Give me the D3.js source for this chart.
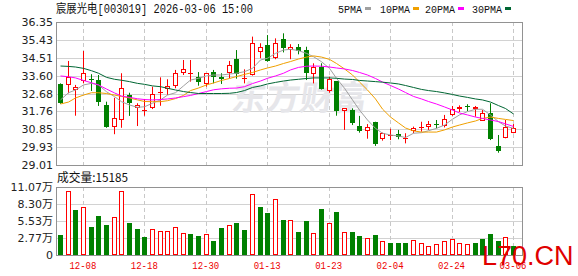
<!DOCTYPE html>
<html>
<head>
<meta charset="utf-8">
<script src="https://cdn.jsdelivr.net/npm/d3@7"></script>
<style>
    html, body { margin: 0; padding: 0; background: #fff; }
    svg { display: block; }
</style>
</head>
<body>
<svg id="kline"></svg>
<script>
// 日期（交易日）
const dates = ["12-03", "12-04", "12-05", "12-08", "12-09", "12-10", "12-11", "12-12", "12-15", "12-16",
    "12-17", "12-18", "12-19", "12-22", "12-23", "12-24", "12-25", "12-26", "12-29", "12-30",
    "12-31", "01-05", "01-06", "01-07", "01-08", "01-09", "01-12", "01-13", "01-14", "01-15",
    "01-16", "01-19", "01-20", "01-21", "01-22", "01-23", "01-26", "01-27", "01-28", "01-29",
    "01-30", "02-02", "02-03", "02-04", "02-05", "02-06", "02-09", "02-10", "02-11", "02-12",
    "02-13", "02-24", "02-25", "02-26", "02-27", "03-02", "03-03", "03-04", "03-05", "03-06"];

const opens = [33.17, 33.10, 32.88, 33.32, 33.43, 33.37, 32.09, 30.94, 31.32, 32.60,
    31.92, 31.80, 31.95, 32.72, 32.91, 33.06, 33.75, 33.72, 33.51, 33.15,
    33.78, 33.51, 33.75, 34.45, 33.47, 33.63, 34.79, 35.17, 34.49, 35.46,
    34.91, 35.05, 34.91, 33.67, 34.06, 32.82, 33.32, 31.78, 31.83, 31.01,
    30.74, 31.20, 30.33, 30.52, 30.60, 30.35, 30.77, 30.92, 30.94, 31.13,
    31.01, 31.58, 31.87, 32.03, 31.87, 31.28, 31.66, 29.99, 30.38, 30.67];
const highs = [33.20, 34.35, 33.12, 34.86, 33.67, 33.63, 32.26, 32.46, 33.72, 32.72,
    32.18, 32.40, 33.03, 33.51, 33.41, 33.89, 34.40, 34.40, 33.78, 33.72,
    33.89, 33.72, 34.35, 34.91, 33.92, 35.60, 35.26, 35.68, 35.51, 35.77,
    35.21, 35.22, 35.08, 34.23, 34.23, 33.54, 33.32, 31.92, 31.92, 31.53,
    31.11, 31.23, 30.67, 30.87, 30.81, 30.64, 30.98, 31.23, 31.27, 31.32,
    31.58, 32.04, 32.07, 32.13, 32.04, 31.83, 32.18, 30.55, 31.32, 31.11];
const lows = [32.15, 32.69, 31.54, 33.20, 32.81, 32.04, 30.92, 30.59, 30.92, 31.53,
    31.01, 31.54, 31.88, 32.05, 32.60, 32.95, 33.63, 33.29, 33.08, 33.03,
    33.20, 33.17, 33.46, 33.44, 33.20, 33.60, 34.49, 34.31, 34.44, 34.79,
    34.44, 34.69, 33.37, 33.20, 32.88, 32.72, 31.54, 30.81, 31.06, 30.67,
    30.36, 29.99, 30.26, 30.29, 30.33, 30.12, 30.64, 30.72, 30.81, 30.89,
    30.94, 31.53, 31.73, 31.78, 31.49, 31.28, 30.29, 29.64, 30.38, 30.64];
const closes = [32.21, 33.54, 33.00, 33.72, 33.41, 32.23, 30.96, 31.41, 32.95, 32.21,
    32.09, 31.83, 32.65, 32.76, 33.06, 33.72, 33.92, 33.75, 33.27, 33.72,
    33.54, 33.41, 34.14, 33.68, 33.49, 35.26, 35.05, 34.36, 35.29, 35.00,
    35.08, 34.88, 33.72, 34.06, 32.90, 33.41, 31.80, 31.92, 31.15, 30.77,
    30.98, 30.09, 30.64, 30.55, 30.43, 30.38, 30.92, 30.95, 31.10, 31.11,
    31.36, 31.87, 31.99, 32.00, 31.97, 31.66, 30.33, 29.74, 30.98, 30.89];
const prevClose = 33.30; // 12-02 收盘

// 成交量（万手）
const volumes = [3.26, 10.42, 7.33, 7.76, 4.56, 6.35, 4.88, 6.13, 10.42, 5.21,
    4.23, 2.98, 4.18, 3.85, 3.85, 4.56, 3.53, 3.42, 3.09, 3.37,
    2.28, 4.40, 4.83, 5.21, 4.07, 9.88, 7.76, 6.84, 9.12, 5.70,
    5.64, 3.74, 5.53, 3.53, 7.49, 5.16, 7.00, 3.69, 3.69, 3.09,
    2.71, 3.26, 2.25, 2.01, 2.01, 2.01, 2.44, 1.90, 1.47, 1.85,
    2.23, 2.60, 1.90, 1.79, 1.95, 2.60, 3.42, 2.28, 2.93, 1.52];
const lastVolume = 15185;

// 均线
const ma5 = [32.35, 32.72, 32.86, 33.12, 33.20, 33.12, 32.77, 32.52, 32.26, 32.09,
    31.97, 32.00, 32.18, 32.35, 32.60, 32.72, 33.07, 33.37, 33.46, 33.58,
    33.63, 33.63, 33.68, 33.72, 33.80, 33.97, 34.40, 34.49, 34.74, 34.91,
    34.95, 34.88, 34.74, 34.57, 34.31, 33.97, 33.46, 32.95, 32.35, 31.83,
    31.32, 30.89, 30.64, 30.55, 30.50, 30.42, 30.64, 30.67, 30.77, 30.89,
    31.06, 31.36, 31.58, 31.75, 31.87, 31.87, 31.58, 31.23, 31.01, 30.89];
const ma10 = [32.14, 32.24, 32.45, 32.60, 32.72, 32.72, 32.68, 32.60, 32.53, 32.45,
    32.35, 32.27, 32.26, 32.26, 32.31, 32.42, 32.58, 32.83, 32.96, 33.12,
    33.22, 33.35, 33.45, 33.55, 33.66, 33.76, 33.89, 33.99, 34.09, 34.22,
    34.32, 34.45, 34.55, 34.61, 34.55, 34.43, 34.22, 33.94, 33.63, 33.27,
    32.86, 32.40, 31.88, 31.47, 31.17, 30.91, 30.76, 30.70, 30.70, 30.70,
    30.81, 30.96, 31.06, 31.17, 31.27, 31.40, 31.47, 31.40, 31.35, 31.29];
const ma20 = [33.58, 33.54, 33.48, 33.35, 33.23, 33.12, 32.91, 32.71, 32.55, 32.48,
    32.41, 32.37, 32.35, 32.37, 32.40, 32.45, 32.52, 32.58, 32.68, 32.78,
    32.87, 32.92, 32.95, 32.96, 33.03, 33.19, 33.32, 33.46, 33.58, 33.72,
    33.89, 34.02, 34.08, 34.09, 34.08, 34.04, 33.99, 33.94, 33.86, 33.76,
    33.63, 33.45, 33.27, 33.09, 32.91, 32.73, 32.53, 32.40, 32.27, 32.14,
    31.99, 31.83, 31.68, 31.58, 31.47, 31.40, 31.32, 31.24, 31.12, 30.99];
const ma30 = [34.09, 34.07, 34.04, 33.97, 33.85, 33.72, 33.51, 33.41, 33.36, 33.29,
    33.20, 33.15, 33.07, 33.03, 32.95, 32.86, 32.78, 32.73, 32.68, 32.68,
    32.68, 32.68, 32.69, 32.73, 32.83, 32.99, 33.07, 33.17, 33.25, 33.32,
    33.37, 33.41, 33.45, 33.48, 33.48, 33.48, 33.46, 33.42, 33.40, 33.35,
    33.32, 33.29, 33.26, 33.22, 33.17, 33.09, 32.99, 32.89, 32.83, 32.78,
    32.71, 32.63, 32.55, 32.48, 32.40, 32.35, 32.24, 32.06, 31.91, 31.63];

// 刻度
const priceTicks = [29.01, 29.93, 30.85, 31.76, 32.68, 33.60, 34.51, 35.43, 36.35];
const volTicks = [0, 2.77, 5.53, 8.30, 11.07];
const xTickDates = ["12-08", "12-18", "12-30", "01-13", "01-23", "02-04", "02-24", "03-06"];

const maNames = ["5PMA", "10PMA", "20PMA", "30PMA"];
const maColors = ["#a0a0a0", "#f0a000", "#ff00ff", "#006633"];
const maSeries = [ma5, ma10, ma20, ma30];

// 尺寸
const width = 578, height = 276;
const plot = { left: 56, right: 522, top: 22, bottom: 165 };
const volPlot = { top: 187, bottom: 255 };
const step = 7.68;
const upColor = "#ff0000", downColor = "#008000";

const svg = d3.select("#kline").attr("width", width).attr("height", height);

const data = dates.map((d, i) => ({
    date: d, open: opens[i], high: highs[i], low: lows[i], close: closes[i],
    vol: volumes[i], prev: i ? closes[i - 1] : prevClose
}));

const x = d3.scaleBand().domain(dates).range([plot.left, plot.left + step * dates.length]);
const cx = d => Math.round(x(d) + x.bandwidth() / 2) + 0.5;
const y = d3.scaleLinear().domain([29.01, 36.35]).range([plot.bottom, plot.top]);
const yv = d3.scaleLinear().domain([0, 11.07]).range([volPlot.bottom, volPlot.top]);

// 网格线
function hGrid(scale, ticks) {
    svg.append("g").selectAll("line")
        .data(ticks.slice(1, -1))
        .join("line")
        .attr("x1", plot.left).attr("x2", plot.right)
        .attr("y1", d => Math.round(scale(d)) + 0.5)
        .attr("y2", d => Math.round(scale(d)) + 0.5)
        .attr("stroke", "#d2d2d2");
}
hGrid(y, priceTicks);
hGrid(yv, volTicks);

[[plot.top, plot.bottom], [volPlot.top, volPlot.bottom]].forEach(([t, b]) => {
    svg.append("g").selectAll("line")
        .data(xTickDates)
        .join("line")
        .attr("x1", d => cx(d)).attr("x2", d => cx(d))
        .attr("y1", t).attr("y2", b)
        .attr("stroke", "#c8c8c8")
        .attr("stroke-dasharray", "4,3");
});

// 水印
svg.append("text")
    .attr("x", 232).attr("y", 110)
    .attr("font-family", "Noto Sans CJK SC")
    .attr("font-weight", "bold")
    .attr("font-size", 34)
    .attr("fill", "#e6e6ea")
    .attr("transform", "skewX(-8) translate(14,0)")
    .text("东方财富");

// K线
const candle = svg.append("g");
data.forEach(d => {
    const up = d.close >= d.open;
    const color = up ? upColor : downColor;
    const c = cx(d.date);
    candle.append("line")
        .attr("x1", c).attr("x2", c)
        .attr("y1", y(d.high)).attr("y2", y(d.low))
        .attr("stroke", color);
    const top = Math.round(y(Math.max(d.open, d.close)));
    const bot = Math.round(y(Math.min(d.open, d.close)));
    if (bot - top < 2) {
        candle.append("rect")
            .attr("x", c - 2.5).attr("y", top).attr("width", 5).attr("height", Math.max(1, bot - top))
            .attr("fill", color);
    } else if (up) {
        candle.append("rect")
            .attr("x", c - 2).attr("y", top + 0.5).attr("width", 4).attr("height", bot - top - 1)
            .attr("fill", "#fff").attr("stroke", color);
    } else {
        candle.append("rect")
            .attr("x", c - 2.5).attr("y", top).attr("width", 5).attr("height", bot - top)
            .attr("fill", color);
    }
});

// 均线
maSeries.forEach((series, k) => {
    const line = d3.line()
        .x((v, i) => cx(dates[i]))
        .y(v => y(v));
    svg.append("path")
        .datum(series)
        .attr("fill", "none")
        .attr("stroke", maColors[k])
        .attr("stroke-width", 1)
        .attr("d", line);
});

// 成交量
const vol = svg.append("g");
data.forEach(d => {
    const up = d.close >= d.prev;
    const c = cx(d.date);
    const top = Math.round(yv(d.vol));
    if (up) {
        vol.append("rect")
            .attr("x", c - 2).attr("y", top + 0.5).attr("width", 4).attr("height", volPlot.bottom - top - 1)
            .attr("fill", "#fff").attr("stroke", upColor);
    } else {
        vol.append("rect")
            .attr("x", c - 2.5).attr("y", top).attr("width", 5).attr("height", volPlot.bottom - top)
            .attr("fill", downColor);
    }
});

// 边框
[[plot.top, plot.bottom], [volPlot.top, volPlot.bottom]].forEach(([t, b]) => {
    svg.append("rect")
        .attr("x", plot.left + 0.5).attr("y", t + 0.5)
        .attr("width", plot.right - plot.left).attr("height", b - t)
        .attr("fill", "none").attr("stroke", "#929292");
});

// 坐标轴
const yAxis = svg.append("g")
    .attr("transform", `translate(${plot.left},0)`)
    .call(d3.axisLeft(y).tickValues(priceTicks).tickSize(0).tickPadding(3).tickFormat(d3.format(".2f")));
const vAxis = svg.append("g")
    .attr("transform", `translate(${plot.left},0)`)
    .call(d3.axisLeft(yv).tickValues(volTicks).tickSize(0).tickPadding(3)
        .tickFormat(d => d === 0 ? "0" : d3.format(".2f")(d) + "万"));
[yAxis, vAxis].forEach(g => {
    g.select(".domain").remove();
    g.selectAll("text")
        .attr("font-family", "DejaVu Sans, Noto Sans CJK SC")
        .attr("font-size", 11)
        .attr("fill", "#222");
});

const xAxis = svg.append("g")
    .attr("transform", `translate(0,${volPlot.bottom})`)
    .call(d3.axisBottom(x).tickValues(xTickDates).tickSize(0).tickPadding(6));
xAxis.select(".domain").remove();
xAxis.selectAll("text")
    .attr("font-family", "Liberation Mono")
    .attr("font-size", 11)
    .attr("fill", "#ee0000")
    .attr("textLength", 27)
    .attr("lengthAdjust", "spacingAndGlyphs");

// 标题
svg.append("text")
    .attr("x", 56).attr("y", 13)
    .attr("font-family", "Liberation Mono, Noto Sans CJK SC")
    .attr("font-size", 12)
    .attr("fill", "#111")
    .attr("textLength", 197)
    .attr("lengthAdjust", "spacingAndGlyphs")
    .text("宸展光电[003019] 2026-03-06 15:00");

svg.append("text")
    .attr("x", 57).attr("y", 182)
    .attr("font-family", "Noto Sans CJK SC")
    .attr("font-size", 12)
    .attr("fill", "#111")
    .attr("textLength", 71)
    .attr("lengthAdjust", "spacingAndGlyphs")
    .text("成交量:" + lastVolume);

// 图例
const legendX = [338, 380, 425, 472];
maNames.forEach((name, k) => {
    const w = name.length * 6;
    svg.append("text")
        .attr("x", legendX[k]).attr("y", 13)
        .attr("font-family", "Liberation Mono")
        .attr("font-size", 11)
        .attr("fill", "#111")
        .attr("textLength", w)
        .attr("lengthAdjust", "spacingAndGlyphs")
        .text(name);
    svg.append("rect")
        .attr("x", legendX[k] + w + 3).attr("y", 7)
        .attr("width", 6).attr("height", 3)
        .attr("fill", maColors[k]);
});

// 角标水印
svg.append("text")
    .attr("x", 482).attr("y", 265)
    .attr("font-family", "Liberation Sans")
    .attr("font-size", 27)
    .attr("fill", "#e00000")
    .text("L70.CN");
</script>
</body>
</html>
